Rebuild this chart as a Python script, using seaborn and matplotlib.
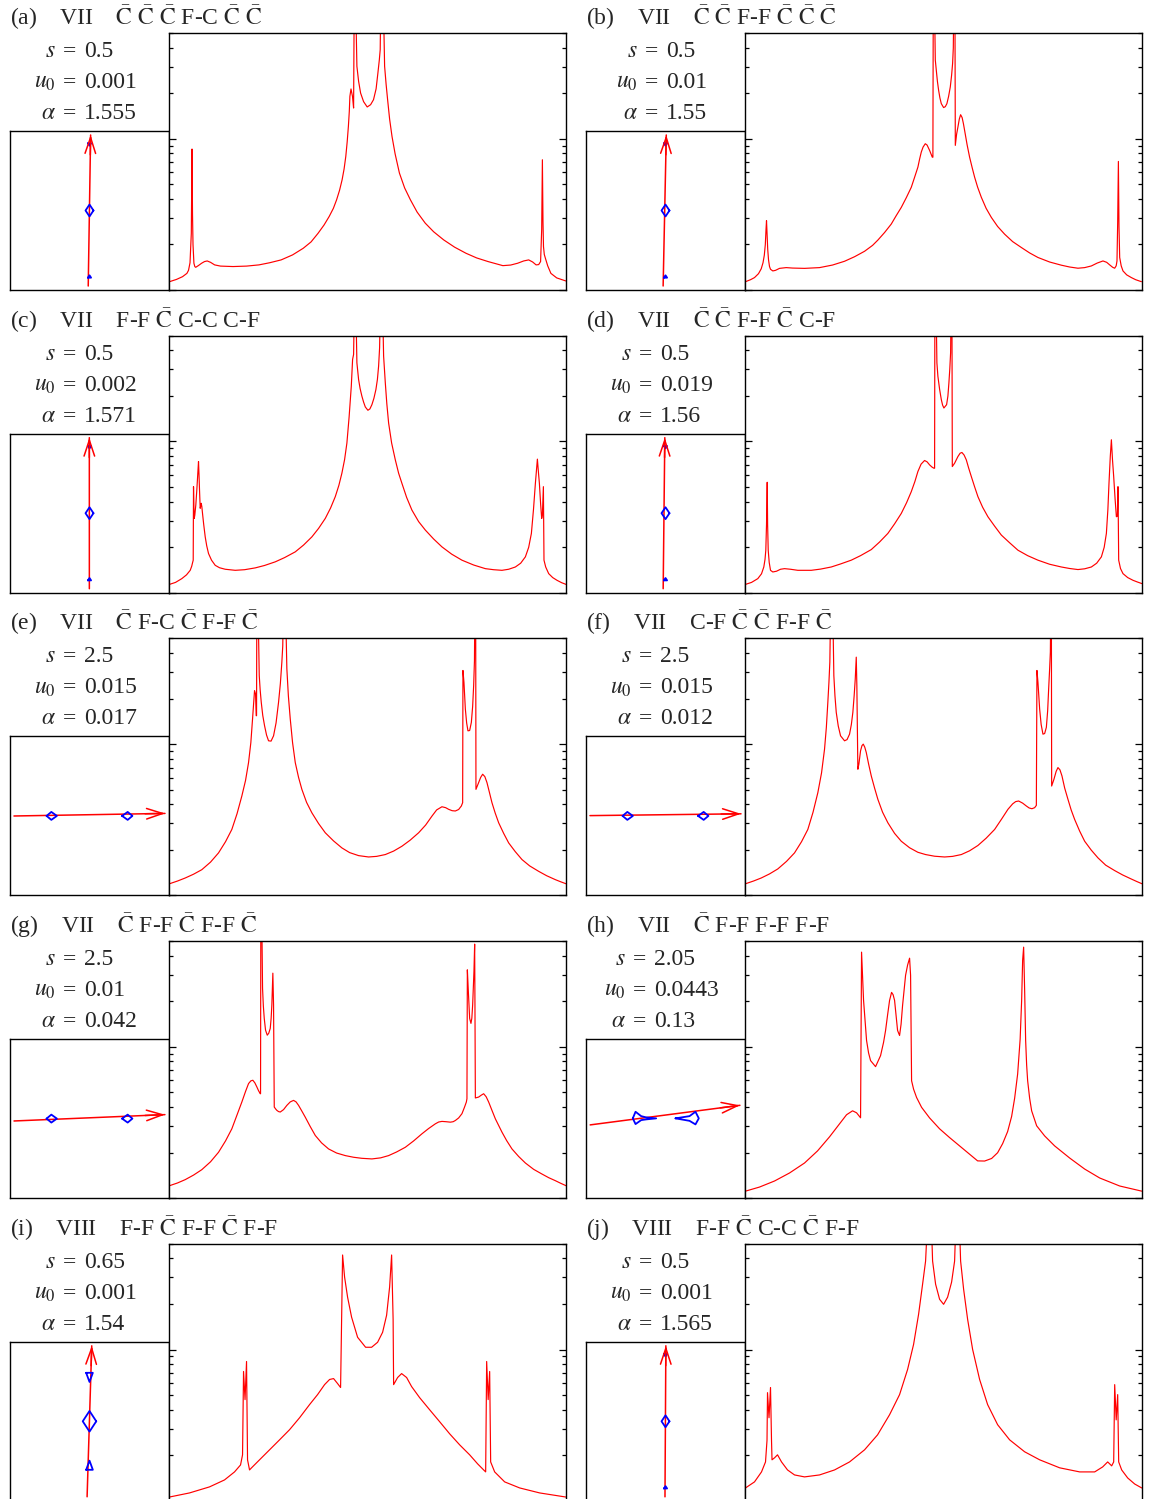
import numpy as np
import pandas as pd
import matplotlib
matplotlib.use("Agg")
import matplotlib.pyplot as plt
import seaborn as sns
from matplotlib.ticker import LogLocator, NullFormatter

sns.set_style("ticks")
plt.rcParams['font.family'] = ['Liberation Serif', 'DejaVu Serif']
plt.rcParams['mathtext.fontset'] = 'stix'

# ---------------- data ----------------
panel_ids = list("abcdefghij")
classes = ["VII", "VII", "VII", "VII", "VII", "VII", "VII", "VII", "VIII", "VIII"]
caustic_labels = [
    "C\u0304 C\u0304 C\u0304 F-C C\u0304 C\u0304",
    "C\u0304 C\u0304 F-F C\u0304 C\u0304 C\u0304",
    "F-F C\u0304 C-C C-F",
    "C\u0304 C\u0304 F-F C\u0304 C-F",
    "C\u0304 F-C C\u0304 F-F C\u0304",
    "C-F C\u0304 C\u0304 F-F C\u0304",
    "C\u0304 F-F C\u0304 F-F C\u0304",
    "C\u0304 F-F F-F F-F",
    "F-F C\u0304 F-F C\u0304 F-F",
    "F-F C\u0304 C-C C\u0304 F-F",
]
s_vals = ["0.5", "0.5", "0.5", "0.5", "2.5", "2.5", "2.5", "2.05", "0.65", "0.5"]
u0_vals = ["0.001", "0.01", "0.002", "0.019", "0.015", "0.015", "0.01", "0.0443", "0.001", "0.001"]
alpha_vals = ["1.555", "1.55", "1.571", "1.56", "0.017", "0.012", "0.042", "0.13", "1.54", "1.565"]

# light curves: (time, log10 magnification); values above the frame are clipped
lc_a = [(1, 0.055), (8, 0.07), (14, 0.088), (18.4, 0.11), (20, 0.13), (21.5, 0.18), (22.8, 0.375),
        (23.5, 0.932), (24, 0.5), (24.5, 0.3), (25.4, 0.177), (26.3, 0.155), (27.2, 0.15), (30, 0.162),
        (33.1, 0.177), (36, 0.188), (38.7, 0.192), (42, 0.183), (46.1, 0.166), (52, 0.158), (64.5, 0.155),
        (78, 0.158), (90.4, 0.166), (101, 0.18), (112.6, 0.199), (124, 0.232), (134.7, 0.276),
        (142.5, 0.318), (149.5, 0.375), (155.5, 0.43), (160.6, 0.486), (164.8, 0.54), (168, 0.596),
        (171, 0.66), (173.5, 0.728), (175.5, 0.8), (177.2, 0.883), (178.6, 0.98), (179.8, 1.082),
        (180.7, 1.18), (181.3, 1.28), (182.4, 1.329), (183.9, 1.28), (185, 1.203), (185.7, 2.0),
        (186.8, 2.0), (188.3, 1.479), (190, 1.38), (192, 1.302), (195, 1.245), (198.6, 1.21),
        (202, 1.225), (204.9, 1.258), (207.5, 1.33), (209.3, 1.435), (210.7, 1.52), (211.6, 1.589),
        (212.3, 2.0), (214.5, 2.0), (216, 1.479), (217.5, 1.36), (219, 1.258), (221, 1.13),
        (223.4, 1.015), (226.5, 0.9), (230.8, 0.773), (236, 0.675), (241.8, 0.596), (248.5, 0.515),
        (256.6, 0.442), (265, 0.385), (275.1, 0.331), (286, 0.283), (297.3, 0.243), (308, 0.212),
        (319.4, 0.188), (334.2, 0.161), (342, 0.165), (349, 0.177), (355, 0.192), (360, 0.199),
        (364, 0.185), (367.4, 0.166), (370, 0.168), (371.9, 0.188), (373, 0.4), (373.7, 0.861),
        (374.3, 0.45), (374.8, 0.287), (375.6, 0.235), (376.7, 0.21), (379, 0.16), (382.2, 0.11),
        (388, 0.08), (397, 0.06)]
lc_b = [(1, 0.055), (6, 0.068), (10, 0.082), (14, 0.108), (16.7, 0.14), (18.5, 0.18), (19.8, 0.23),
        (20.8, 0.3), (21.5, 0.4), (22, 0.458), (22.5, 0.38), (23.2, 0.27), (24, 0.2), (25, 0.155),
        (26, 0.137), (28.3, 0.126), (31, 0.13), (35, 0.143), (41.7, 0.148), (48, 0.145), (60, 0.143),
        (75, 0.148), (88, 0.165), (100, 0.19), (110, 0.22), (120, 0.256), (128, 0.295), (133.3, 0.33),
        (140, 0.38), (146.7, 0.436), (151.5, 0.49), (156.7, 0.546), (161.7, 0.61), (166.7, 0.679),
        (170, 0.745), (173.3, 0.812), (175, 0.865), (176.7, 0.912), (178.5, 0.945), (180.7, 0.967),
        (182.5, 0.958), (185, 0.923), (187.7, 0.878), (188.3, 0.878), (188.7, 2.0), (189.7, 2.0),
        (190.7, 1.52), (191.7, 1.453), (192.8, 1.38), (194, 1.321), (195.3, 1.27), (196.7, 1.232),
        (199, 1.206), (200.7, 1.212), (202.3, 1.232), (204, 1.28), (205.7, 1.343), (207, 1.42),
        (208, 1.498), (208.7, 1.6), (209.3, 2.0), (210.3, 2.0), (210.7, 0.956), (212, 1.03),
        (213.3, 1.077), (214.7, 1.13), (216, 1.159), (217.5, 1.14), (218.8, 1.1), (220, 1.055),
        (222.5, 0.96), (225, 0.878), (227.5, 0.81), (230, 0.746), (233, 0.68), (236.7, 0.613),
        (241.5, 0.54), (246.7, 0.48), (253, 0.42), (260, 0.369), (268, 0.32), (276.7, 0.281),
        (285, 0.245), (293.3, 0.215), (305, 0.185), (316.7, 0.164), (325, 0.152), (333.3, 0.144),
        (340, 0.148), (346.7, 0.159), (352.5, 0.178), (358.3, 0.192), (362, 0.183), (365, 0.166),
        (368, 0.15), (370, 0.144), (371.5, 0.16), (372.3, 0.192), (373, 0.45), (373.7, 0.85),
        (374.3, 0.42), (375, 0.215), (376.5, 0.16), (378.3, 0.126), (382, 0.1), (386.7, 0.082),
        (391, 0.068), (396.7, 0.055)]
lc_c = [(1, 0.055), (7, 0.068), (13.3, 0.093), (18, 0.118), (21.7, 0.148), (23.2, 0.175), (24, 0.197),
        (24.7, 0.215), (25, 0.701), (25.4, 0.56), (25.7, 0.491), (26.3, 0.513), (27.3, 0.58),
        (28.3, 0.679), (29.3, 0.79), (30, 0.867), (30.5, 0.78), (31, 0.679), (31.7, 0.558),
        (32.2, 0.575), (32.7, 0.591), (33.3, 0.57), (34, 0.524), (35.2, 0.45), (36.7, 0.369),
        (38.2, 0.31), (40, 0.259), (43, 0.215), (46.7, 0.181), (51, 0.165), (56.7, 0.155), (66.7, 0.148),
        (76, 0.152), (86.7, 0.164), (96, 0.18), (106.7, 0.204), (116, 0.232), (126.7, 0.27), (135, 0.315),
        (143.3, 0.369), (150, 0.425), (156.7, 0.491), (162, 0.56), (166.7, 0.635), (170.3, 0.71),
        (173.3, 0.79), (176, 0.88), (178.3, 0.989), (180.5, 1.16), (182.7, 1.365), (184, 1.542),
        (185, 1.575), (186, 2.0), (187, 2.0), (188.3, 1.52), (190, 1.409), (191.5, 1.35), (193.3, 1.299),
        (195, 1.26), (196.7, 1.228), (199.3, 1.206), (201.3, 1.215), (203.3, 1.243), (205.3, 1.285),
        (207.3, 1.343), (208.8, 1.41), (210, 1.498), (211, 1.62), (212, 2.0), (213.7, 2.0), (215, 1.564),
        (216.7, 1.387), (218.2, 1.25), (220, 1.122), (223, 0.99), (226.7, 0.878), (230, 0.79),
        (233.3, 0.723), (238, 0.63), (243.3, 0.546), (250, 0.47), (256.7, 0.414), (265, 0.355),
        (273.3, 0.303), (283, 0.255), (293.3, 0.215), (305, 0.183), (316.7, 0.159), (325, 0.152),
        (333.3, 0.148), (340, 0.155), (346.7, 0.17), (352, 0.195), (356.7, 0.237), (360, 0.3),
        (362.7, 0.392), (364.8, 0.55), (366.7, 0.723), (368.7, 0.883), (369.7, 0.8), (370.7, 0.723),
        (372, 0.58), (373, 0.491), (373.7, 0.513), (374.7, 0.701), (375.3, 0.215), (377, 0.17),
        (380, 0.126), (384, 0.1), (388.3, 0.082), (393, 0.066), (397.3, 0.055)]
lc_d = [(1, 0.055), (7, 0.068), (13.3, 0.093), (17, 0.125), (19.3, 0.17), (20.5, 0.22), (21.3, 0.281),
        (22, 0.45), (22.7, 0.73), (23.1, 0.45), (23.7, 0.281), (24.7, 0.2), (26, 0.148), (28.3, 0.137),
        (32, 0.142), (36, 0.155), (40, 0.159), (46, 0.155), (53.3, 0.148), (66.7, 0.148), (76, 0.156),
        (86.7, 0.17), (96, 0.19), (106.7, 0.215), (116, 0.245), (126.7, 0.285), (135, 0.335),
        (143.3, 0.392), (150, 0.455), (156.7, 0.524), (162, 0.595), (166.7, 0.668), (170.3, 0.735),
        (173.3, 0.801), (176.5, 0.85), (180, 0.874), (182.5, 0.865), (185, 0.845), (187.5, 0.83),
        (189.3, 0.823), (190, 0.823), (190.3, 2.0), (191.3, 2.0), (192.3, 1.52), (193.3, 1.431),
        (195, 1.345), (196.7, 1.277), (198, 1.24), (199.3, 1.221), (202, 1.243), (203.3, 1.3),
        (204.3, 1.387), (205.2, 1.48), (206, 1.586), (206.7, 2.0), (207.3, 2.0), (207.7, 0.834),
        (210, 0.856), (213.3, 0.9), (215.5, 0.922), (217.3, 0.927), (219.5, 0.91), (221.7, 0.878),
        (224, 0.825), (226.7, 0.768), (230, 0.7), (233.3, 0.635), (238, 0.565), (243.3, 0.502),
        (250, 0.44), (256.7, 0.381), (265, 0.33), (273.3, 0.281), (283, 0.245), (293.3, 0.215),
        (305, 0.188), (316.7, 0.17), (325, 0.16), (333.3, 0.153), (340, 0.158), (346.7, 0.17),
        (352, 0.195), (356.7, 0.237), (359.5, 0.3), (361.7, 0.392), (363.2, 0.55), (364.3, 0.723),
        (365.6, 0.9), (366.7, 1.011), (367.8, 0.88), (369, 0.768), (370.4, 0.62), (371.7, 0.502),
        (372.7, 0.507), (373.3, 0.701), (374, 0.215), (375.8, 0.16), (378.3, 0.126), (383, 0.1),
        (388.3, 0.082), (393, 0.07), (397.3, 0.06)]
lc_e = [(1, 0.077), (9, 0.095), (16.7, 0.115), (25, 0.14), (33.3, 0.17), (42, 0.22), (50, 0.281),
        (57, 0.355), (63.3, 0.436), (68.5, 0.54), (73.3, 0.657), (77, 0.76), (80, 0.878), (82.3, 1.01),
        (84, 1.166), (85.2, 1.28), (86, 1.354), (87, 1.332), (87.7, 1.188), (88, 1.188), (88.3, 2.0),
        (89.3, 2.0), (90.7, 1.453), (91.6, 1.36), (92.7, 1.277), (94.2, 1.19), (96, 1.122), (98, 1.06),
        (100, 1.022), (102.5, 1.02), (105, 1.055), (107.5, 1.14), (110, 1.277), (111.8, 1.4),
        (113.3, 1.542), (114.2, 1.65), (115, 2.0), (116.7, 2.0), (118.3, 1.498), (119.8, 1.32),
        (121.7, 1.166), (124, 1.01), (126.7, 0.878), (130, 0.78), (133.3, 0.701), (138, 0.615),
        (143.3, 0.546), (150, 0.475), (156.7, 0.414), (165, 0.36), (173.3, 0.314), (181, 0.283),
        (190, 0.263), (200, 0.254), (208, 0.258), (216.7, 0.27), (225, 0.293), (233.3, 0.325),
        (241.5, 0.365), (250, 0.414), (257, 0.465), (263.3, 0.524), (268, 0.565), (273.3, 0.586),
        (277, 0.58), (280, 0.569), (283.5, 0.56), (286.7, 0.558), (290, 0.568), (292.7, 0.591),
        (294, 0.613), (294.3, 1.487), (295.3, 1.409), (296.7, 1.232), (298, 1.14), (299.3, 1.088),
        (301, 1.09), (302.7, 1.144), (304, 1.25), (305, 1.387), (305.8, 1.55), (306.3, 2.0), (307, 2.0),
        (307.3, 0.701), (310, 0.746), (312, 0.78), (314, 0.801), (316.2, 0.785), (318.3, 0.746),
        (320.8, 0.68), (323.3, 0.613), (326.5, 0.545), (330, 0.48), (335, 0.41), (340, 0.347),
        (346.5, 0.29), (353.3, 0.237), (361, 0.195), (370, 0.159), (378, 0.13), (386.7, 0.104),
        (392, 0.09), (397.3, 0.077)]
lc_f = [(1, 0.077), (9, 0.095), (16.7, 0.115), (25, 0.142), (33.3, 0.175), (42, 0.225), (50, 0.281),
        (57, 0.355), (63.3, 0.436), (68.5, 0.55), (73.3, 0.679), (77, 0.81), (80, 0.967), (81.8, 1.11),
        (83.3, 1.277), (84.4, 1.41), (85.3, 1.542), (86.3, 2.0), (88, 2.0), (89.3, 1.453), (90.4, 1.32),
        (91.7, 1.21), (93.7, 1.12), (96, 1.055), (100, 1.022), (102.5, 1.03), (105, 1.066), (106.8, 1.13),
        (108.3, 1.21), (109.6, 1.32), (110.7, 1.431), (111.7, 1.575), (112.3, 1.387), (113.3, 0.834),
        (114.3, 0.867), (116, 0.956), (117.4, 0.99), (118.7, 1.0), (120.2, 0.98), (121.7, 0.945),
        (124, 0.87), (126.7, 0.79), (130, 0.71), (133.3, 0.635), (138, 0.55), (143.3, 0.48), (150, 0.41),
        (156.7, 0.358), (165, 0.315), (173.3, 0.285), (181, 0.27), (190, 0.259), (200, 0.254),
        (208, 0.258), (216.7, 0.27), (225, 0.295), (233.3, 0.33), (241.5, 0.378), (250, 0.436),
        (257, 0.505), (263.3, 0.569), (268, 0.605), (271, 0.62), (274, 0.624), (278, 0.61),
        (281.7, 0.591), (284.5, 0.578), (287.3, 0.573), (290, 0.58), (291.7, 0.595), (292.3, 1.487),
        (293.3, 1.409), (295, 1.232), (296.5, 1.13), (298.3, 1.066), (300, 1.07), (301.7, 1.111),
        (303, 1.22), (304, 1.365), (305, 1.5), (305.7, 1.608), (306.3, 2.0), (306.7, 2.0), (307, 0.723),
        (309.3, 0.768), (311.5, 0.82), (313.3, 0.845), (315.3, 0.83), (317.3, 0.79), (320, 0.71),
        (323.3, 0.635), (326.5, 0.565), (330, 0.502), (335, 0.425), (340, 0.358), (346.5, 0.3),
        (353.3, 0.248), (361, 0.2), (370, 0.164), (378, 0.135), (386.7, 0.108), (392, 0.092),
        (397.3, 0.077)]
lc_g = [(1, 0.082), (9, 0.1), (16.7, 0.122), (25, 0.152), (33.3, 0.188), (42, 0.24), (50, 0.303),
        (57, 0.378), (63.3, 0.458), (68.5, 0.55), (73.3, 0.635), (77, 0.705), (80, 0.757), (82.3, 0.775),
        (84.3, 0.779), (86.3, 0.762), (88.3, 0.735), (90, 0.71), (91.7, 0.69), (92, 0.69), (92.3, 2.0),
        (93, 2.0), (94, 1.387), (94.8, 1.27), (95.7, 1.188), (97, 1.11), (98.7, 1.077), (100.2, 1.09),
        (101.7, 1.122), (102.6, 1.19), (103.3, 1.277), (104.3, 1.487), (105, 1.277), (105.7, 0.602),
        (107, 0.59), (108.3, 0.58), (110, 0.572), (111.7, 0.569), (115, 0.585), (118.3, 0.613),
        (121.7, 0.636), (125, 0.646), (127.5, 0.636), (130, 0.613), (133.3, 0.575), (136.7, 0.535),
        (141.5, 0.475), (146.7, 0.414), (153, 0.365), (160, 0.325), (168, 0.298), (176.7, 0.281),
        (185, 0.27), (193.3, 0.263), (203.3, 0.259), (212, 0.266), (220, 0.281), (228, 0.305),
        (236.7, 0.336), (245, 0.378), (253.3, 0.425), (260, 0.46), (266.7, 0.491), (270, 0.503),
        (273.3, 0.507), (277.5, 0.505), (281.7, 0.502), (284.5, 0.505), (286.7, 0.513), (290, 0.53),
        (293.3, 0.558), (295.8, 0.6), (297.7, 0.635), (298.3, 0.657), (298.7, 1.509), (299.7, 1.365),
        (301, 1.188), (302.3, 1.155), (303.2, 1.19), (304, 1.277), (305.3, 1.498), (306, 1.679),
        (306.3, 1.277), (306.7, 0.662), (310, 0.668), (312.5, 0.68), (315, 0.69), (317.5, 0.67),
        (320, 0.635), (323.3, 0.58), (326.7, 0.524), (330, 0.48), (333.3, 0.436), (338, 0.38),
        (343.3, 0.325), (350, 0.275), (356.7, 0.232), (365, 0.19), (373.3, 0.159), (380, 0.135),
        (386.7, 0.115), (392, 0.098), (397.3, 0.082)]
lc_h = [(1, 0.046), (15, 0.073), (30, 0.113), (45, 0.166), (60, 0.232), (73, 0.312), (85, 0.405),
        (95, 0.491), (102, 0.551), (108, 0.577), (112, 0.564), (116, 0.531), (117, 1.626), (119, 1.307),
        (122, 1.042), (124, 0.96), (126, 0.909), (131, 0.869), (136, 0.942), (139, 1.03), (141, 1.108),
        (143, 1.21), (145, 1.307), (147, 1.36), (148.5, 1.345), (150, 1.307), (153, 1.108),
        (155, 1.075), (156.5, 1.15), (158, 1.274), (161, 1.473), (163, 1.54), (165, 1.586),
        (166, 1.473), (167, 0.776), (169, 0.72), (172, 0.665), (177, 0.6), (185, 0.53), (195, 0.458),
        (205, 0.4), (215, 0.345), (225, 0.29), (233, 0.246), (240, 0.245), (247, 0.262), (253, 0.3),
        (258, 0.36), (263, 0.44), (267, 0.54), (270, 0.66), (273, 0.82), (275.5, 1.05), (277, 1.307),
        (278, 1.573), (279, 1.659), (280, 1.374), (281, 1.042), (282, 0.88), (283, 0.776), (285, 0.66),
        (287, 0.577), (292, 0.478), (300, 0.411), (310, 0.345), (325, 0.265), (340, 0.192),
        (355, 0.133), (375, 0.08), (397, 0.046)]
lc_i = [(1, 0.025), (21, 0.052), (41, 0.092), (56, 0.138), (66, 0.191), (72, 0.237), (74, 0.304),
        (75, 0.855), (76.5, 0.669), (78, 0.921), (79, 0.271), (81, 0.204), (83, 0.218), (91, 0.271),
        (101, 0.337), (111, 0.403), (121, 0.47), (131, 0.549), (141, 0.636), (149, 0.702), (156, 0.768),
        (161, 0.802), (165, 0.808), (169, 0.775), (172, 0.749), (174, 1.625), (176, 1.479), (179, 1.346),
        (183, 1.214), (189, 1.081), (197, 1.015), (203, 1.015), (209, 1.048), (214, 1.114), (218, 1.227),
        (221, 1.413), (223, 1.625), (224.5, 1.2), (225, 0.768), (229, 0.815), (233, 0.841), (238, 0.815),
        (243, 0.755), (251, 0.682), (261, 0.602), (271, 0.523), (281, 0.443), (291, 0.37), (301, 0.304),
        (309, 0.244), (315, 0.204), (317, 0.191), (318, 0.921), (319.5, 0.669), (321, 0.855),
        (322, 0.257), (326, 0.191), (336, 0.125), (351, 0.085), (371, 0.052), (397, 0.025)]
lc_j = [(1, 0.085), (10, 0.125), (17, 0.191), (21, 0.257), (22.5, 0.4), (23, 0.715), (24.5, 0.549),
        (26, 0.749), (27, 0.4), (27.5, 0.271), (30, 0.284), (33, 0.304), (37, 0.257), (43, 0.204),
        (50, 0.171), (60, 0.158), (75, 0.171), (90, 0.204), (105, 0.257), (120, 0.337), (133, 0.436),
        (145, 0.569), (155, 0.702), (163, 0.868), (169, 1.034), (174, 1.233), (178, 1.432), (181, 1.585),
        (184, 2.0), (186, 2.0), (188, 1.585), (191, 1.432), (195, 1.332), (199, 1.299), (203, 1.346),
        (207, 1.446), (210, 1.585), (212, 2.0), (214, 2.0), (216, 1.585), (219, 1.399), (223, 1.2),
        (228, 1.001), (235, 0.802), (243, 0.636), (253, 0.503), (265, 0.403), (280, 0.324), (295, 0.271),
        (315, 0.218), (335, 0.191), (350, 0.191), (358, 0.224), (363, 0.257), (367, 0.231), (369, 0.257),
        (370, 0.768), (371.5, 0.535), (373, 0.702), (374, 0.257), (377, 0.204), (383, 0.151),
        (390, 0.111), (397, 0.085)]
light_curves = [lc_a, lc_b, lc_c, lc_d, lc_e, lc_f, lc_g, lc_h, lc_i, lc_j]

# caustic outlines in inset units (half frame = 1)
caus_close = [
    [(0.05, 0.0), (0.0, 0.075), (-0.05, 0.0), (0.0, -0.075), (0.05, 0.0)],
    [(-0.02, 0.845), (0.02, 0.845), (0.0, 0.815), (-0.02, 0.845)],
    [(-0.02, -0.845), (0.02, -0.845), (0.0, -0.815), (-0.02, -0.845)],
]
caus_wide = [
    [(-0.54, 0.0), (-0.48, 0.05), (-0.41, 0.0), (-0.48, -0.05), (-0.54, 0.0)],
    [(0.41, 0.0), (0.48, 0.05), (0.54, 0.0), (0.48, -0.05), (0.41, 0.0)],
]
caus_h = [
    [(-0.411, 0.003), (-0.377, 0.086), (-0.306, 0.031), (-0.243, 0.015), (-0.117, 0.003),
     (-0.243, -0.01), (-0.306, -0.019), (-0.377, -0.069), (-0.411, 0.003)],
    [(0.126, 0.003), (0.302, 0.031), (0.377, 0.086), (0.419, 0.003), (0.377, -0.073),
     (0.302, -0.028), (0.126, 0.003)],
]
caus_i = [
    [(0.085, 0.0), (0.0, 0.13), (-0.085, 0.0), (0.0, -0.13), (0.085, 0.0)],
    [(-0.042, 0.61), (0.042, 0.61), (0.0, 0.495), (-0.042, 0.61)],
    [(-0.042, -0.61), (0.042, -0.61), (0.0, -0.495), (-0.042, -0.61)],
]
caustics = [caus_close, caus_close, caus_close, caus_close, caus_wide, caus_wide, caus_wide,
            caus_h, caus_i, caus_close]
traj_extent = (-0.95, 0.95)

# ---------------- layout ----------------
W, H = 1150, 1499
fig = plt.figure(figsize=(W / 100, H / 100), dpi=100, facecolor="white")
FS = 17


def rect(x0, y0, x1, y1):
    return [x0 / W, 1 - y1 / H, (x1 - x0) / W, (y1 - y0) / H]


def fx(x):
    return x / W


def fy(y):
    return 1 - y / H


def markup(lbl):
    return " ".join(r"$\bar{\mathrm{C}}$" if tok == "C\u0304" else tok for tok in lbl.split(" "))


def on_traj(t, alpha, u0):
    return (t * np.cos(alpha) - u0 * np.sin(alpha), t * np.sin(alpha) + u0 * np.cos(alpha))


for k in range(10):
    col, row = k % 2, k // 2
    X0 = 10 + 576 * col
    Y0 = 33 + 302.7 * row

    # inset: caustics and source trajectory
    ax_in = fig.add_axes(rect(X0, Y0 + 98, X0 + 159, Y0 + 257))
    ax_in.set_xlim(-1, 1)
    ax_in.set_ylim(-1, 1)
    alpha = float(alpha_vals[k])
    u0 = float(u0_vals[k])
    tx, ty = on_traj(np.array(traj_extent), alpha, u0)
    traj = pd.DataFrame({"x": tx, "y": ty})
    sns.lineplot(data=traj, x="x", y="y", ax=ax_in, color="red", lw=1.1,
                 estimator=None, sort=False)
    ax_in.annotate("", xy=on_traj(traj_extent[1], alpha, u0), xytext=on_traj(0.7, alpha, u0),
                   arrowprops=dict(arrowstyle="->,head_length=1.15,head_width=0.38", color="red",
                                   lw=1.1, shrinkA=0, shrinkB=0, mutation_scale=10))
    for poly in caustics[k]:
        pdf = pd.DataFrame(poly, columns=["x", "y"])
        sns.lineplot(data=pdf, x="x", y="y", ax=ax_in, color="blue", lw=1.3,
                     estimator=None, sort=False)
    ax_in.set_xticks([])
    ax_in.set_yticks([])
    ax_in.set_xlabel("")
    ax_in.set_ylabel("")
    for sp in ax_in.spines.values():
        sp.set_visible(True)
        sp.set_linewidth(1.0)
        sp.set_color("black")

    # light curve
    ax = fig.add_axes(rect(X0 + 159, Y0, X0 + 556, Y0 + 257))
    df = pd.DataFrame(light_curves[k], columns=["t", "logA"])
    df["A"] = 10 ** df["logA"]
    sns.lineplot(data=df, x="t", y="A", ax=ax, color="red", lw=0.85,
                 estimator=None, sort=False)
    ax.set_yscale("log")
    ax.set_ylim(1, 50)
    ax.set_xlim(0.5, 397.3)
    ax.set_xticks([])
    ax.yaxis.set_major_locator(LogLocator(base=10, numticks=5))
    ax.yaxis.set_minor_locator(LogLocator(base=10, subs=np.arange(2, 10), numticks=20))
    ax.yaxis.set_major_formatter(NullFormatter())
    ax.yaxis.set_minor_formatter(NullFormatter())
    ax.tick_params(axis="y", which="both", direction="in", left=True, right=True,
                   labelleft=False, labelright=False, color="black", width=0.9)
    ax.tick_params(axis="y", which="major", length=5)
    ax.tick_params(axis="y", which="minor", length=2.8)
    ax.set_xlabel("")
    ax.set_ylabel("")
    for sp in ax.spines.values():
        sp.set_visible(True)
        sp.set_linewidth(1.0)
        sp.set_color("black")

    # header: one line, "(x)    class    label"
    base = Y0 - 8
    header = f"({panel_ids[k]})    {classes[k]}    " + markup(caustic_labels[k])
    fig.text(fx(X0), fy(base), header, fontsize=FS, ha="left", va="baseline")

    # parameters, aligned on "="
    L = max(len(u0_vals[k]), len(alpha_vals[k]))
    eq = X0 + 60 + 6 * (5 - L)
    for j, (lhs, rhs) in enumerate([(r"$s$", s_vals[k]), (r"$u_0$", u0_vals[k]),
                                    (r"$\alpha$", alpha_vals[k])]):
        yb = Y0 + 24 + 31 * j
        fig.text(fx(eq - 14), fy(yb), lhs, fontsize=FS, ha="right", va="baseline")
        fig.text(fx(eq), fy(yb), "=", fontsize=FS, ha="center", va="baseline")
        fig.text(fx(eq + 14), fy(yb), rhs, fontsize=FS, ha="left", va="baseline")

fig.savefig("out.png", dpi=100, facecolor="white")
